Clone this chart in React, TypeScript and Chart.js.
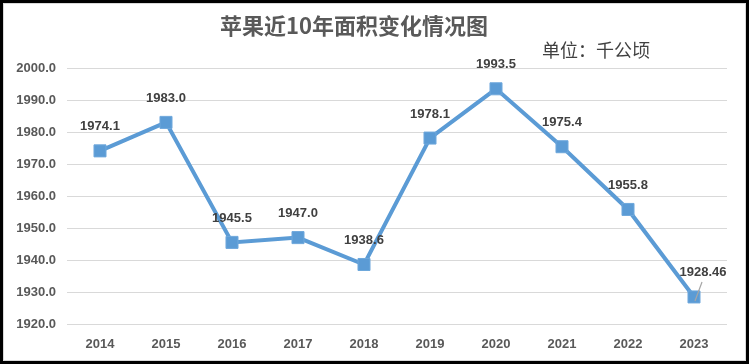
import React, { useEffect, useRef } from "react";
import { Chart, registerables } from "chart.js";

Chart.register(...registerables);

const years = ["2014", "2015", "2016", "2017", "2018", "2019", "2020", "2021", "2022", "2023"];
const areaValues = [1974.1, 1983.0, 1945.5, 1947.0, 1938.6, 1978.1, 1993.5, 1975.4, 1955.8, 1928.46];
const valueLabels = ["1974.1", "1983.0", "1945.5", "1947.0", "1938.6", "1978.1", "1993.5", "1975.4", "1955.8", "1928.46"];
const titleText = "苹果近10年面积变化情况图";
const unitText = "单位：千公顷";

const BLUE = "#5b9bd5";

const overlayPlugin = {
  id: "overlay",
  afterDatasetsDraw(chart: any) {
    const ctx = chart.ctx;
    const meta = chart.getDatasetMeta(0);
    ctx.save();
    // title
    ctx.fillStyle = "#595959";
    ctx.font = 'bold 22px "Noto Sans CJK SC"';
    ctx.textAlign = "center";
    ctx.textBaseline = "middle";
    ctx.fillText(titleText, 354, 26);
    ctx.fillStyle = "#404040";
    ctx.font = '400 18px "Noto Sans CJK SC"';
    ctx.textAlign = "left";
    ctx.fillText(unitText, 542, 50);
    // data labels
    ctx.font = 'bold 13px "Liberation Sans"';
    ctx.textAlign = "center";
    ctx.fillStyle = "#404040";
    meta.data.forEach((pt: any, i: number) => {
      const last = i === meta.data.length - 1;
      const dx = last ? 9 : 0;
      const dy = last ? -25 : -24;
      ctx.fillText(valueLabels[i], pt.x + dx, pt.y + dy);
      if (last) {
        ctx.strokeStyle = "#a6a6a6";
        ctx.lineWidth = 1.2;
        ctx.beginPath();
        ctx.moveTo(pt.x + 8, pt.y - 15);
        ctx.lineTo(pt.x + 1, pt.y + 4);
        ctx.stroke();
      }
    });
    ctx.restore();
  },
};

export default function App() {
  const ref = useRef<HTMLCanvasElement>(null);
  useEffect(() => {
    document.body.style.margin = "0";
    const chart = new Chart(ref.current as HTMLCanvasElement, {
      type: "line",
      data: {
        labels: years,
        datasets: [
          {
            data: areaValues,
            borderColor: BLUE,
            backgroundColor: BLUE,
            borderWidth: 4,
            pointStyle: "rect",
            pointRadius: 8.5,
            pointBackgroundColor: BLUE,
            pointBorderColor: "#6fa8dc",
            pointBorderWidth: 1,
            tension: 0,
          },
        ],
      },
      options: {
        animation: false,
        responsive: false,
        maintainAspectRatio: false,
        layout: { padding: { left: 0, right: 22, top: 68, bottom: 0 } },
        plugins: { legend: { display: false }, tooltip: { enabled: false }, title: { display: false } },
        scales: {
          x: {
            offset: true,
            grid: { display: false, drawTicks: false },
            border: { display: false },
            ticks: { color: "#595959", font: { family: "Liberation Sans", size: 13, weight: "bold" }, padding: 13 },
            afterFit: (s: any) => { s.height = 40; },
          },
          y: {
            min: 1920,
            max: 2000,
            grid: { color: "#d9d9d9", lineWidth: 1, drawTicks: false },
            border: { display: false },
            ticks: {
              stepSize: 10,
              color: "#595959",
              padding: 11,
              font: { family: "Liberation Sans", size: 13, weight: "bold" },
              callback: (v: any) => Number(v).toFixed(1),
            },
            afterFit: (s: any) => { s.width = 67; },
          },
        },
      },
      plugins: [overlayPlugin],
    });
    return () => chart.destroy();
  }, []);
  return (
    <div style={{ position: "absolute", left: 0, top: 0, width: 749, height: 364, background: "#000" }}>
      <div style={{ position: "absolute", left: 3, top: 3, width: 741, height: 356, background: "#fff", border: "1px solid #d9d9d9" }} />
      <canvas ref={ref} width={749} height={364} style={{ position: "absolute", left: 0, top: 0 }} />
    </div>
  );
}
